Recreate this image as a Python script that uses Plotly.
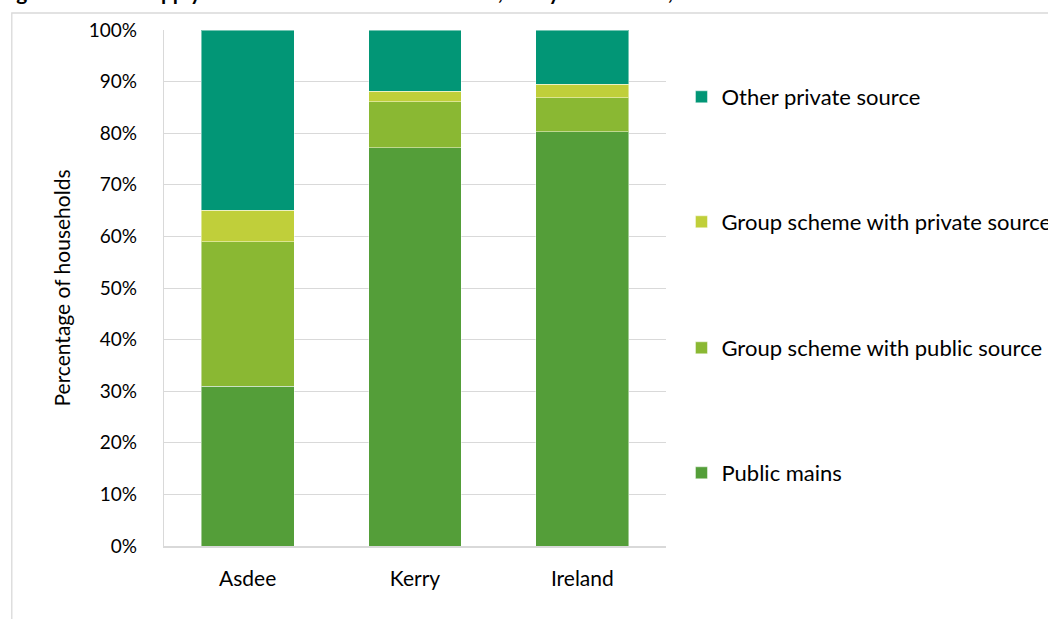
import plotly.graph_objects as go

# Share of households by water supply source (%), 2016
areas = ["Asdee", "Kerry", "Ireland"]
public_mains = [31.0, 77.2, 80.3]
group_public = [28.0, 8.9, 6.6]
group_private = [6.1, 2.0, 2.6]
other_private = [34.9, 11.9, 10.5]

series = [
    ("Public mains", public_mains, "#549E39", "legend4"),
    ("Group scheme with public source", group_public, "#8AB833", "legend3"),
    ("Group scheme with private source", group_private, "#C0CF3A", "legend2"),
    ("Other private source", other_private, "#029676", "legend"),
]

FONT = "Lato"

fig = go.Figure()
for name, vals, color, leg in series:
    fig.add_trace(go.Bar(
        x=areas, y=vals, name=name, legend=leg,
        marker=dict(color=color, line=dict(color="rgba(255,255,255,0.45)", width=1)),
        width=0.555,
    ))

# plot area in pixels: x 163.5..666.5, y 30..546
W, H = 1048, 619
L, R, T, B = 163.5, 666.5, 30, 546
pw, ph = R - L, B - T

def px(x):
    return (x - L) / pw

def py(y):
    return (B - y) / ph

leg_style = dict(font=dict(family=FONT, size=22, color="#000000"),
                 bgcolor="rgba(0,0,0,0)", xanchor="left", yanchor="middle",
                 itemwidth=30, tracegroupgap=0)
legend_y = {"legend": 97, "legend2": 222, "legend3": 348, "legend4": 473}

layout_legends = {k: dict(x=px(682), y=py(v), **leg_style) for k, v in legend_y.items()}

fig.update_layout(
    width=W, height=H,
    margin=dict(l=L, r=W - R, t=T, b=H - B, pad=0, autoexpand=False),
    barmode="stack",
    plot_bgcolor="white", paper_bgcolor="white",
    font=dict(family=FONT, size=20, color="#000000"),
    showlegend=True,
    **layout_legends,
    xaxis=dict(
        showgrid=False, showline=True, linecolor="#D9D9D9", linewidth=1.5,
        ticks="", tickfont=dict(family=FONT, size=21, color="#000000"),
        ticklabelstandoff=13,
    ),
    yaxis=dict(
        range=[0, 100], dtick=10, ticksuffix="%",
        showgrid=True, gridcolor="#D9D9D9", gridwidth=1.3,
        showline=True, linecolor="#D9D9D9", linewidth=1.3,
        zeroline=False, ticks="",
        tickfont=dict(family=FONT, size=19, color="#000000"),
        ticklabelstandoff=22,
        title=dict(text="Percentage of households", standoff=12,
                   font=dict(family=FONT, size=21, color="#000000")),
    ),
    shapes=[
        # outer chart frame
        dict(type="rect", xref="paper", yref="paper",
             x0=px(11), x1=px(1100), y0=py(700), y1=py(13),
             line=dict(color="#D9D9D9", width=1.3), fillcolor="rgba(0,0,0,0)",
             layer="below"),
    ],
    annotations=[
        dict(text="<b>Fig. 5.5: Water supply sources to households in Asdee, Kerry and Ireland, 2016</b>",
             xref="paper", yref="paper", x=px(-4), y=py(6), xanchor="left", yanchor="bottom",
             showarrow=False, font=dict(family=FONT, size=21, color="#000000")),
    ],
)

fig.write_html("out.html")
